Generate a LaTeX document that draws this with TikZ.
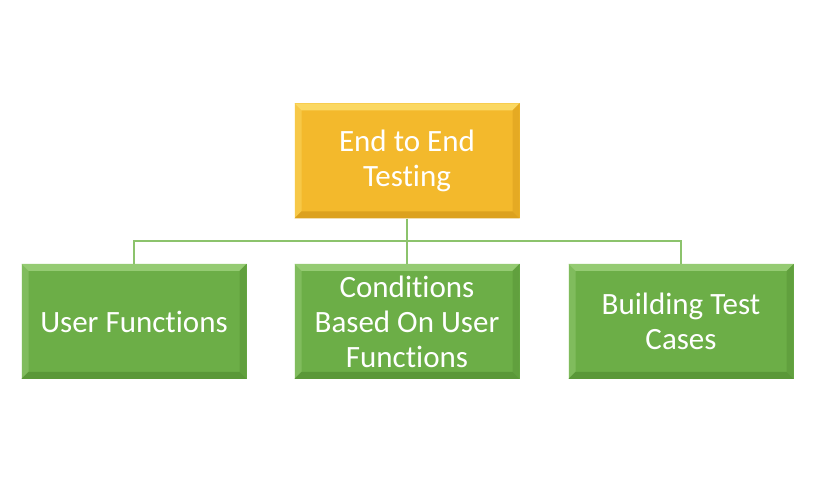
\documentclass[tikz,border=0pt]{standalone}
\usepackage{fontspec}
\setmainfont[Ligatures=NoCommon]{Carlito}
\definecolor{goldbase}{HTML}{F3B92C}
\definecolor{goldlight}{HTML}{FBD862}
\definecolor{golddark}{HTML}{DCA11E}
\definecolor{greenbase}{HTML}{6CAE47}
\definecolor{greenlight}{HTML}{95CB73}
\definecolor{greendark}{HTML}{5A9838}
\definecolor{linkgreen}{HTML}{8CC36C}
\tikzset{
  x=1pt,y=1pt,
  bevel/.style 2 args={path picture={
    \def\bw{7pt}
    \fill[#1] (path picture bounding box.north west) -- (path picture bounding box.north east)
      -- ([xshift=-\bw,yshift=-\bw]path picture bounding box.north east)
      -- ([xshift=\bw,yshift=-\bw]path picture bounding box.north west) -- cycle;
    \fill[#1,opacity=0.5] (path picture bounding box.north west) -- ([xshift=\bw,yshift=-\bw]path picture bounding box.north west)
      -- ([xshift=\bw,yshift=\bw]path picture bounding box.south west) -- (path picture bounding box.south west) -- cycle;
    \fill[#2] (path picture bounding box.south west) -- (path picture bounding box.south east)
      -- ([xshift=-\bw,yshift=\bw]path picture bounding box.south east)
      -- ([xshift=\bw,yshift=\bw]path picture bounding box.south west) -- cycle;
    \fill[#2,opacity=0.6] (path picture bounding box.north east) -- ([xshift=-\bw,yshift=-\bw]path picture bounding box.north east)
      -- ([xshift=-\bw,yshift=\bw]path picture bounding box.south east) -- (path picture bounding box.south east) -- cycle;
  }},
  boxbase/.style={rectangle, minimum width=225pt, minimum height=115pt, inner sep=2pt,
    text=white, align=center, font=\fontsize{31}{35}\selectfont},
  goldbox/.style={boxbase, fill=goldbase, bevel={goldlight}{golddark}},
  greenbox/.style={boxbase, fill=greenbase, bevel={greenlight}{greendark}},
  link/.style={draw=linkgreen, line width=2pt}
}
\begin{document}
\begin{tikzpicture}
\useasboundingbox (0,0) rectangle (820,500);
\node[goldbox] (root) at (407,339) {End to End\\Testing};
\node[greenbox] (c1) at (134,178.5) {User Functions};
\node[greenbox] (c2) at (407,178.5) {Conditions\\Based On User\\Functions};
\node[greenbox] (c3) at (681,178.5) {Building Test\\Cases};
\coordinate (bus) at (407,259);
\draw[link] (root.south) -- (bus);
\draw[link] (bus) -| (c1.north);
\draw[link] (bus) -| (c3.north);
\draw[link] (bus) -- (c2.north);
\end{tikzpicture}
\end{document}
